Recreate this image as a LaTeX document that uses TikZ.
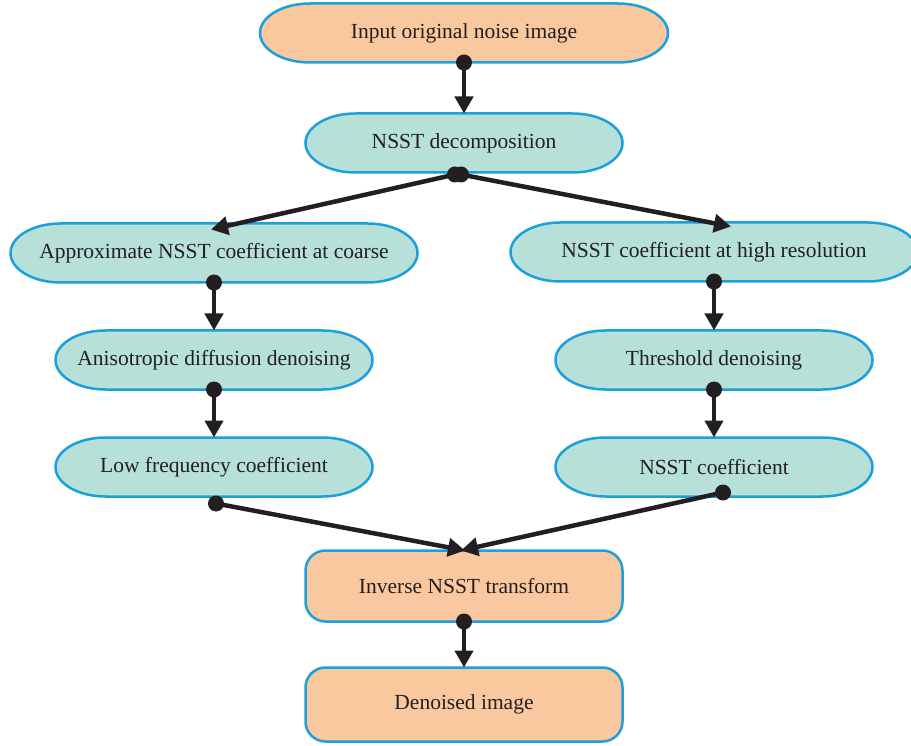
\documentclass[tikz,border=0pt]{standalone}
\usepackage{fontspec}
\setmainfont{Liberation Serif}
\usetikzlibrary{arrows.meta,backgrounds}
\definecolor{bord}{HTML}{1CA0DB}
\definecolor{orng}{HTML}{FAC89E}
\definecolor{tealf}{HTML}{B6E0D8}
\definecolor{ink}{HTML}{231F20}
\newcommand\drawpill[2]{%
  \path[pillline, fill=#2] ([xshift=50pt]#1.north west) -- ([xshift=-50pt]#1.north east)
    arc[start angle=90,end angle=-90,x radius=50pt,y radius=29.5pt]
    -- ([xshift=50pt]#1.south west)
    arc[start angle=270,end angle=90,x radius=50pt,y radius=29.5pt] -- cycle;}
\begin{document}
\begin{tikzpicture}[x=1pt,y=-1pt,
  pillline/.style={draw=bord, line width=2.5pt},
  txt/.style={text=ink, inner sep=0pt, outer sep=0pt,
    font=\fontsize{21.5}{24}\selectfont},
  pill/.style={txt, rectangle, minimum height=59pt},
  rbox/.style={txt, draw=bord, line width=2.5pt, rectangle, fill=orng, rounded corners=20pt},
  conn/.style={draw=ink, line width=4.5pt, -{Triangle[length=17pt,width=18pt]}},
  dot/.style={fill=ink}
]
\useasboundingbox (0,0) rectangle (911,746);

\node[pill, minimum width=408pt] (n1) at (464,33) {Input original noise image};
\node[pill, minimum width=317pt] (n2) at (464,143) {NSST decomposition};
\node[pill, minimum width=407pt] (n3) at (214,253) {Approximate NSST coefficient at coarse};
\node[pill, minimum width=407pt] (n4) at (714,252) {NSST coefficient at high resolution};
\node[pill, minimum width=317pt] (n5) at (214,360) {Anisotropic diffusion denoising};
\node[pill, minimum width=317pt] (n6) at (714,360) {Threshold denoising};
\node[pill, minimum width=317pt] (n7) at (214,467) {Low frequency coefficient};
\node[pill, minimum width=317pt] (n8) at (714,467) {NSST coefficient};
\node[rbox, minimum width=317pt, minimum height=71pt] (n9) at (464,586) {Inverse NSST transform};
\node[rbox, minimum width=317pt, minimum height=74pt] (n10) at (464,704.5) {Denoised image};

\begin{scope}[on background layer]
  \drawpill{n1}{orng}
  \foreach \n in {n2,n3,n4,n5,n6,n7,n8}{\drawpill{\n}{tealf}}
\end{scope}

% vertical connectors
\foreach \a/\b in {n1/n2, n3/n5, n5/n7, n4/n6, n6/n8, n9/n10}{
  \draw[conn] (\a.south) -- (\b.north);
  \fill[dot] (\a.south) circle (8pt);
}

% split from NSST decomposition
\draw[conn] ([xshift=-9pt,yshift=-2pt]n2.south) -- ([xshift=-3pt,yshift=-6pt]n3.north);
\draw[conn] ([xshift=-3pt,yshift=-2pt]n2.south) -- ([xshift=17pt,yshift=-4pt]n4.north);
\fill[dot] ([xshift=-9pt,yshift=-2pt]n2.south) circle (8pt);
\fill[dot] ([xshift=-3pt,yshift=-2pt]n2.south) circle (8pt);

% merge into inverse transform
\draw[conn] ([xshift=2pt,yshift=-7pt]n7.south) -- ([xshift=1pt,yshift=0pt]n9.north);
\draw[conn] ([xshift=9pt,yshift=4pt]n8.south) -- ([xshift=-3pt,yshift=0pt]n9.north);
\fill[dot] ([xshift=2pt,yshift=-7pt]n7.south) circle (8pt);
\fill[dot] ([xshift=9pt,yshift=4pt]n8.south) circle (8pt);
\end{tikzpicture}
\end{document}
